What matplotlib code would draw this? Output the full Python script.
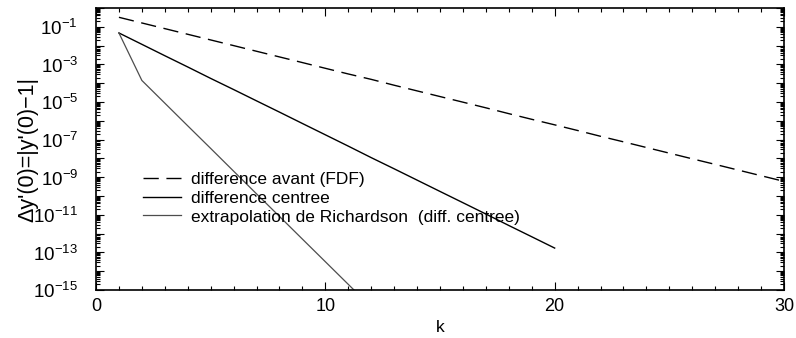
import numpy as np
import matplotlib
matplotlib.use("Agg")
import matplotlib.pyplot as plt
from matplotlib.ticker import LogLocator, FixedLocator, MultipleLocator, NullFormatter

plt.rcParams['font.family'] = ['Liberation Sans', 'DejaVu Sans']
plt.rcParams['mathtext.fontset'] = 'custom'
plt.rcParams['mathtext.rm'] = 'Liberation Sans'

# erreurs
k_fdf = list(range(1, 31))
err_fdf = [3.2e-1, 1.6e-1, 8.0e-2, 4.0e-2, 2.0e-2, 1.0e-2, 5.0e-3, 2.5e-3, 1.25e-3, 6.2e-4,
           3.1e-4, 1.6e-4, 7.8e-5, 3.9e-5, 1.95e-5, 9.8e-6, 4.9e-6, 2.4e-6, 1.2e-6, 6.1e-7,
           3.05e-7, 1.5e-7, 7.6e-8, 3.8e-8, 1.9e-8, 9.5e-9, 4.8e-9, 2.4e-9, 1.2e-9, 6.0e-10]

k_cdf = list(range(1, 21))
err_cdf = [4.7e-2, 1.17e-2, 2.9e-3, 7.3e-4, 1.8e-4, 4.6e-5, 1.15e-5, 2.9e-6, 7.2e-7, 1.8e-7,
           4.5e-8, 1.1e-8, 2.8e-9, 7.0e-10, 1.75e-10, 4.4e-11, 1.1e-11, 2.7e-12, 6.8e-13, 1.7e-13]

k_rich = list(range(1, 13))
err_rich = [4.7e-2, 1.4e-4, 8.7e-6, 5.4e-7, 3.4e-8, 2.1e-9, 1.3e-10, 8.2e-12, 5.1e-13, 3.2e-14,
            2.0e-15, 1.25e-16]

fig = plt.figure(figsize=(7.96, 3.38), dpi=100)
ax = fig.add_axes([96/796, 1-290/338, 688/796, 282/338])

ax.plot(k_fdf, err_fdf, color='k', lw=1.0, dashes=(11, 5.5), label='difference avant (FDF)')
ax.plot(k_cdf, err_cdf, color='k', lw=1.0, label='difference centree')
ax.plot(k_rich, err_rich, color='0.3', lw=0.9, label='extrapolation de Richardson  (diff. centree)')

ax.set_yscale('log')
ax.set_xlim(0, 30)
ax.set_ylim(1e-15, 1)

ax.xaxis.set_major_locator(FixedLocator([0, 10, 20, 30]))
ax.xaxis.set_minor_locator(MultipleLocator(1))
ax.yaxis.set_major_locator(FixedLocator([10.0**e for e in range(-15, 1)]))
ax.yaxis.set_minor_locator(LogLocator(base=10, subs=np.arange(2, 10), numticks=40))
ax.yaxis.set_minor_formatter(NullFormatter())
ax.set_yticklabels(['$10^{%d}$' % e if e % 2 else '' for e in range(-15, 1)])

ax.tick_params(which='both', direction='in', top=True, right=True, width=0.8)
ax.tick_params(which='major', length=6)
ax.tick_params(which='minor', length=3)
ax.tick_params(axis='x', which='major', pad=6, labelsize=13)
ax.tick_params(axis='y', which='major', pad=13, labelsize=13.5)
for s in ax.spines.values():
    s.set_linewidth(1.2)

ax.set_xlabel('k', fontsize=12.5, labelpad=3)
ax.set_ylabel("Δy'(0)=|y'(0)−1|", fontsize=15.5, labelpad=-4)

ax.legend(loc='upper left', bbox_to_anchor=(0.058, 0.445), frameon=False, fontsize=12.5,
          handlelength=2.2, handletextpad=0.6, labelspacing=0.22, borderaxespad=0)

fig.savefig('out.png', dpi=100)
